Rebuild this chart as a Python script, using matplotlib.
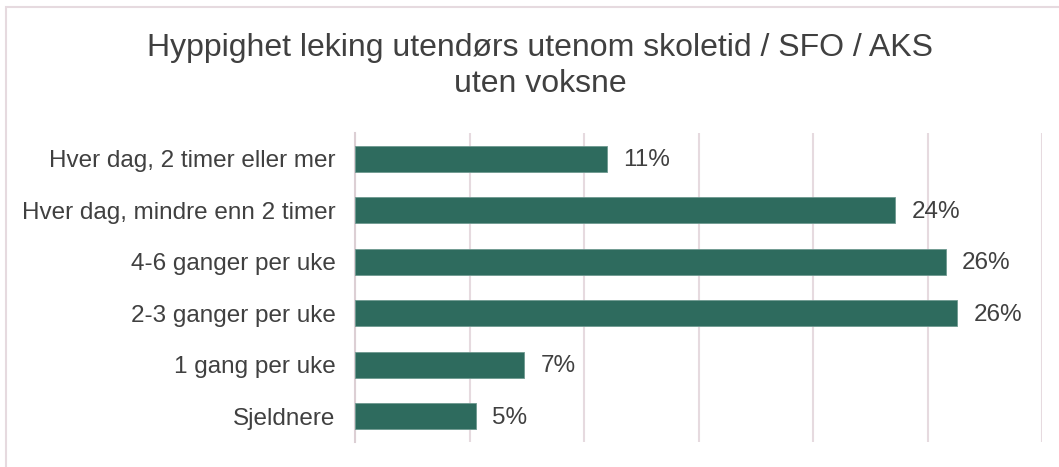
import matplotlib
matplotlib.use("Agg")
import matplotlib.pyplot as plt
from matplotlib.patches import Rectangle

categories = ["Hver dag, 2 timer eller mer", "Hver dag, mindre enn 2 timer",
              "4-6 ganger per uke", "2-3 ganger per uke", "1 gang per uke", "Sjeldnere"]
values = [11.0, 23.6, 25.8, 26.3, 7.4, 5.3]
labels = ["11%", "24%", "26%", "26%", "7%", "5%"]
title = "Hyppighet leking utendørs utenom skoletid / SFO / AKS\nuten voksne"

plt.rcParams['font.family'] = ['Liberation Sans', 'DejaVu Sans']
W, H = 1059, 467
fig = plt.figure(figsize=(W/100, H/100), dpi=100)
ax = fig.add_axes([355/W, 1-442/H, (1042-355)/W, (442-133)/H])

text_c = '#404040'
grid_c = '#E6DADF'
bar_c = '#2E6B5E'

y = list(range(len(categories)))
ax.barh(y, values, height=0.5, color=bar_c, edgecolor='#6E9990', linewidth=0.6, zorder=3)
for yi, v, lab in zip(y, values, labels):
    ax.text(v + 0.7, yi + 0.03, lab, va='center', ha='left', fontsize=17.5, color=text_c)

ax.set_xlim(0, 30)
ax.set_ylim(5.5, -0.5)
ax.set_xticks([0, 5, 10, 15, 20, 25, 30])
ax.xaxis.grid(True, color=grid_c, linewidth=1.5, zorder=0)
ax.tick_params(axis='x', length=0, labelbottom=False)
ax.set_yticks(y)
ax.set_yticklabels(categories, fontsize=17.5, color=text_c)
ax.tick_params(axis='y', length=0, pad=14)
for s in ['top', 'right', 'bottom']:
    ax.spines[s].set_visible(False)
ax.spines['left'].set_color('#DCCFD4')
ax.spines['left'].set_linewidth(1.5)

fig.text(540/W, 1-66/H, title, ha='center', va='center', fontsize=23,
         color=text_c, linespacing=1.27)

fig.patches.append(Rectangle((6/W, -0.1), 1.2, 1 - 6.5/H + 0.1, transform=fig.transFigure,
                             fill=False, edgecolor=grid_c, linewidth=1.5))

fig.savefig("out.png", dpi=100)
